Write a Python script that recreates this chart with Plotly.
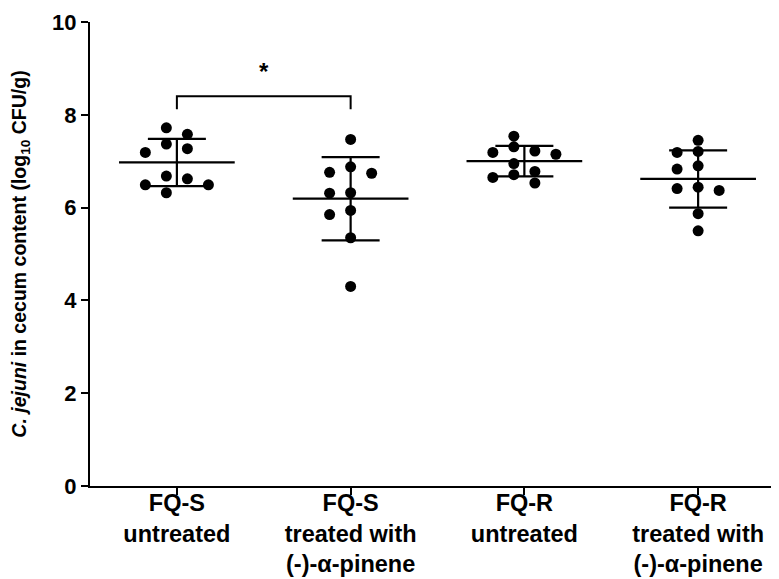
"""Column scatter of C. jejuni cecum counts, mean with SD."""

import numpy as np
import plotly.graph_objects as go

groups = [
    "FQ-S<br>untreated",
    "FQ-S<br>treated with<br>(-)-α-pinene",
    "FQ-R<br>untreated",
    "FQ-R<br>treated with<br>(-)-α-pinene",
]

fqs_untreated = [7.72, 7.58, 7.37, 7.27, 7.19, 6.68, 6.62, 6.49, 6.49, 6.32]
fqs_treated = [7.47, 6.88, 6.76, 6.74, 6.32, 6.31, 5.94, 5.85, 5.35, 4.30]
fqr_untreated = [7.54, 7.31, 7.22, 7.19, 7.15, 6.95, 6.78, 6.71, 6.65, 6.53]
fqr_treated = [7.45, 7.21, 7.19, 6.90, 6.83, 6.44, 6.41, 6.37, 5.87, 5.50]

series = [fqs_untreated, fqs_treated, fqr_untreated, fqr_treated]

y_ticks = [0, 2, 4, 6, 8, 10]

FONT = "Liberation Sans, Arial, sans-serif"
COL_STEP = 0.121   # horizontal spacing of scatter columns (category units)
MIN_DY = 0.21      # vertical distance below which two dots would touch
MEAN_HALF = 0.333
CAP_PX = 29
BRACKET_Y = 8.40
BRACKET_DROP = 0.28


def swarm(values, even):
    """Greedy column placement, roughly like a Prism column scatter."""
    if even:
        slots = [-0.5, 0.5, -1.5, 1.5, -2.5, 2.5, -3.5, 3.5]
    else:
        slots = [0, -1, 1, -2, 2, -3, 3]
    placed = []
    for v in sorted(values, reverse=True):
        for s in slots:
            if all(not (ps == s and abs(pv - v) < MIN_DY) for pv, ps in placed):
                placed.append((v, s))
                break
    return placed


fig = go.Figure()

for i, vals in enumerate(series):
    odd = swarm(vals, even=False)
    even = swarm(vals, even=True)
    # keep whichever layout stays narrower
    best = even if max(abs(s) for _, s in even) < max(abs(s) for _, s in odd) else odd
    xs = [i + s * COL_STEP for _, s in best]
    ys = [v for v, _ in best]

    mean = float(np.mean(vals))
    sd = float(np.std(vals, ddof=1))

    # mean line
    fig.add_trace(go.Scatter(
        x=[i - MEAN_HALF, i + MEAN_HALF], y=[mean, mean], mode="lines",
        line=dict(color="black", width=2.2), hoverinfo="skip", showlegend=False,
    ))
    # SD whiskers
    fig.add_trace(go.Scatter(
        x=[i], y=[mean], mode="markers", marker=dict(opacity=0, size=1),
        error_y=dict(type="data", array=[sd], visible=True, color="black",
                     thickness=2.2, width=CAP_PX),
        hoverinfo="skip", showlegend=False,
    ))
    fig.add_trace(go.Scatter(
        x=xs, y=ys, mode="markers",
        marker=dict(color="black", size=11, line=dict(width=0)),
        showlegend=False,
    ))

# significance bracket between the two FQ-S groups
fig.add_trace(go.Scatter(
    x=[0, 0, 1, 1],
    y=[BRACKET_Y - BRACKET_DROP, BRACKET_Y, BRACKET_Y, BRACKET_Y - BRACKET_DROP],
    mode="lines", line=dict(color="black", width=2), hoverinfo="skip",
    showlegend=False,
))
fig.add_annotation(
    x=0.5, y=BRACKET_Y, text="<b>*</b>", showarrow=False, yanchor="bottom",
    yshift=9, font=dict(family=FONT, size=24, color="black"),
)

fig.update_layout(
    width=779,
    height=579,
    margin=dict(l=72, r=2, t=10, b=101),
    plot_bgcolor="white",
    paper_bgcolor="white",
    font=dict(family=FONT, color="black"),
)
fig.update_xaxes(
    range=[-0.5, 3.5],
    tickvals=list(range(len(groups))),
    ticktext=groups,
    ticks="outside", ticklen=7, tickwidth=2, tickcolor="black",
    ticklabelstandoff=-12,
    showline=True, linecolor="black", linewidth=2,
    showgrid=False, zeroline=False,
    tickfont=dict(family=FONT, size=23.5, color="black", weight="bold"),
)
fig.update_yaxes(
    range=[0, 10],
    tickvals=y_ticks,
    ticks="outside", ticklen=7, tickwidth=2, tickcolor="black",
    ticklabeloverflow="allow",
    showline=True, linecolor="black", linewidth=2,
    showgrid=False, zeroline=False,
    tickfont=dict(family=FONT, size=22, color="black", weight="bold"),
    title=dict(
        text="<b><i>C. jejuni</i> in cecum content (log<sub>10</sub> CFU/g)</b>",
        font=dict(family=FONT, size=19.5, color="black"),
        standoff=28,
    ),
)

fig.write_html("out.html")
